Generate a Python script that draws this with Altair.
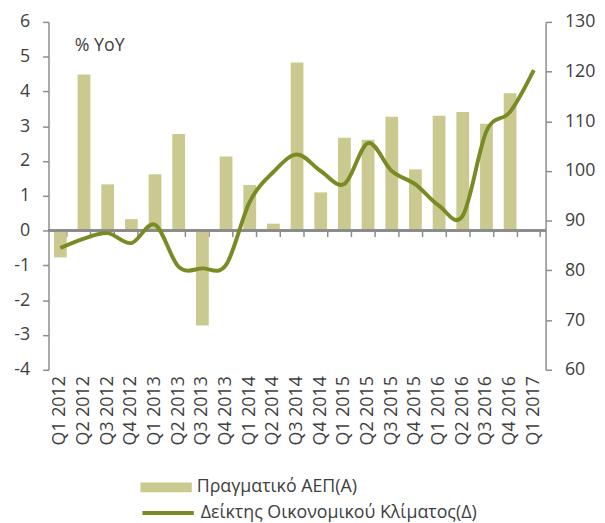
import altair as alt
import pandas as pd

quarters = ["Q1 2012", "Q2 2012", "Q3 2012", "Q4 2012",
            "Q1 2013", "Q2 2013", "Q3 2013", "Q4 2013",
            "Q1 2014", "Q2 2014", "Q3 2014", "Q4 2014",
            "Q1 2015", "Q2 2015", "Q3 2015", "Q4 2015",
            "Q1 2016", "Q2 2016", "Q3 2016", "Q4 2016",
            "Q1 2017"]
gdp = [-0.77, 4.49, 1.33, 0.33, 1.62, 2.78, -2.73, 2.13, 1.31, 0.20,
       4.83, 1.10, 2.67, 2.61, 3.27, 1.76, 3.30, 3.41, 3.07, 3.95, None]
esi = [84.5, 86.4, 87.5, 85.5, 89.2, 80.7, 80.4, 81.1, 93.8, 99.8,
       103.3, 100.0, 97.4, 105.6, 100.0, 97.3, 93.0, 91.0, 108.0, 111.9, 120.3]
gdp_name = "Πραγματικό ΑΕΠ(Α)"
esi_name = "Δείκτης Οικονομικού Κλίματος(Δ)"
left_ticks = [-4, -3, -2, -1, 0, 1, 2, 3, 4, 5, 6]
right_ticks = [60, 70, 80, 90, 100, 110, 120, 130]

df = pd.DataFrame({"q": quarters, "gdp": gdp, "esi": esi})
df["gdp_s"] = gdp_name
df["esi_s"] = esi_name

W, H = 503, 352
FONT = "Open Sans"
TXT = "#404040"
AX = "#8c8c8c"
BAR = "#CACA90"
LINE = "#7A8A24"

xscale = alt.Scale(domain=quarters, paddingInner=0.46, paddingOuter=0.23)
lscale = alt.Scale(domain=[-4, 6], nice=False, zero=False)
rscale = alt.Scale(domain=[60, 130], nice=False, zero=False)

bars = alt.Chart(df).mark_bar().encode(
    x=alt.X("q:N", scale=xscale, axis=alt.Axis(
        title=None, orient="bottom", labelAngle=-90, labelFont=FONT,
        labelFontSize=18, labelColor=TXT, labelPadding=6,
        domain=False, ticks=False, grid=False)),
    y=alt.Y("gdp:Q", scale=lscale, axis=alt.Axis(
        orient="left", values=left_ticks, title="% YoY", titleAngle=0,
        titleX=26, titleY=29, titleAlign="left", titleBaseline="alphabetic",
        titleFont=FONT, titleFontSize=18, titleFontWeight="normal",
        titleColor=TXT, labelFont=FONT, labelFontSize=18, labelColor=TXT,
        labelPadding=13, tickSize=6, tickColor=AX, tickWidth=1.5,
        domainColor=AX, domainWidth=1.5, grid=False,
        labelExpr="datum.value + ''")),
    fill=alt.Fill("gdp_s:N", scale=alt.Scale(domain=[gdp_name], range=[BAR]),
                  legend=alt.Legend(
                      title=None, orient="none", legendX=93, legendY=445,
                      symbolType="M-1,-0.1923H1V0.1923H-1Z", symbolSize=2704,
                      symbolStrokeWidth=0, symbolOpacity=1,
                      labelFont=FONT, labelFontSize=18, labelColor=TXT,
                      labelOffset=5, labelLimit=0)),
)

zero_rule = alt.Chart(df).mark_rule(color=AX, strokeWidth=2).encode(
    y=alt.YDatum(0, scale=lscale, axis=None)
)

ticks = alt.Chart(df).mark_point(opacity=0).encode(
    x=alt.X("q:N", scale=xscale, axis=alt.Axis(
        title=None, orient="bottom", offset=-H * 4 / 10, labels=False,
        domain=False, ticks=True, tickBand="extent", tickSize=6,
        tickColor=AX, tickWidth=1.5, grid=False)),
)

line = alt.Chart(df).mark_line(interpolate="cardinal", strokeWidth=4).encode(
    x=alt.X("q:N", scale=xscale, axis=None),
    y=alt.Y("esi:Q", scale=rscale, axis=alt.Axis(
        orient="right", values=right_ticks, title=None,
        labelFont=FONT, labelFontSize=18, labelColor=TXT,
        labelPadding=13, tickSize=6, tickColor=AX, tickWidth=1.5,
        domainColor=AX, domainWidth=1.5, grid=False)),
    stroke=alt.Stroke("esi_s:N", scale=alt.Scale(domain=[esi_name], range=[LINE]),
                      legend=alt.Legend(
                          title=None, orient="none", legendX=93, legendY=469,
                          symbolType="stroke", symbolSize=2704,
                          symbolStrokeWidth=4,
                          labelFont=FONT, labelFontSize=18, labelColor=TXT,
                          labelOffset=5, labelLimit=0)),
)

chart = alt.layer(bars, zero_rule, ticks, line).resolve_scale(
    y="independent"
).resolve_axis(
    x="independent"
).properties(
    width=W, height=H,
    autosize=alt.AutoSizeParams(type="none"),
    padding={"left": 41, "top": 11, "right": 52, "bottom": 153},
).configure_view(stroke=None)

chart.save("out.html", embed_options={"renderer": "svg", "actions": False})
